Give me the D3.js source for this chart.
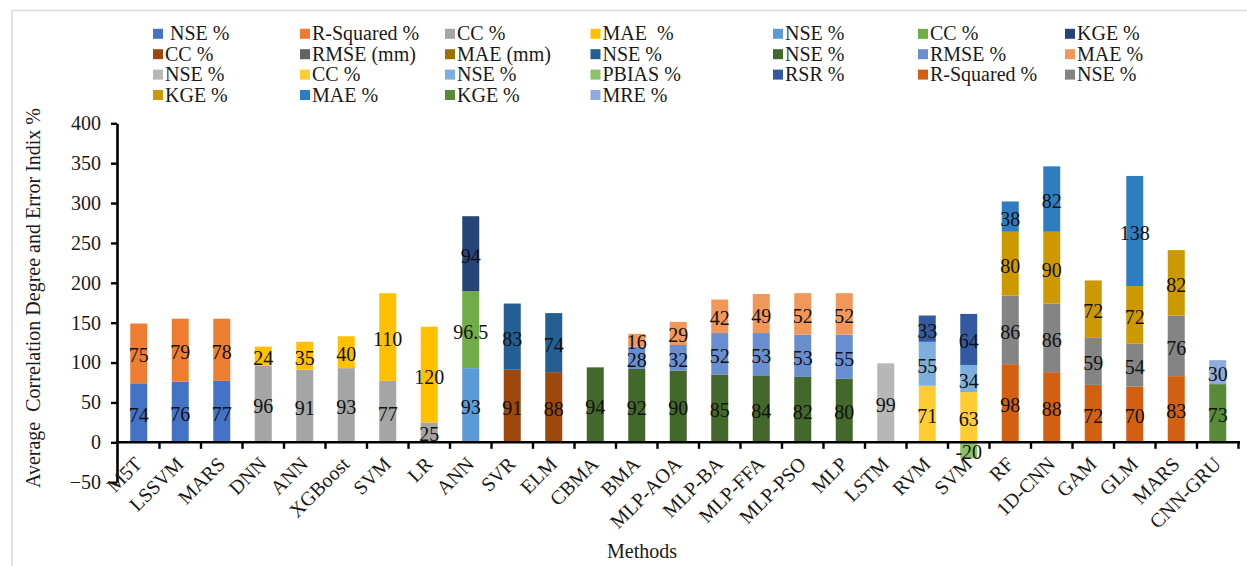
<!DOCTYPE html>
<html>
<head>
<meta charset="utf-8">
<script src="https://cdn.jsdelivr.net/npm/d3@7"></script>
<style>
  html, body { margin: 0; padding: 0; background: #fff; }
  svg { display: block; font-family: "Liberation Serif", "Times New Roman", serif; }
  text { white-space: pre; }
</style>
</head>
<body>
<svg id="chart" width="1247" height="566"></svg>
<script>
const _ = null;

// Methods on the category axis (some names repeat across study groups)
const categories = [
  "M5T", "LSSVM", "MARS",
  "DNN", "ANN", "XGBoost", "SVM", "LR",
  "ANN",
  "SVR", "ELM",
  "CBMA", "BMA", "MLP-AOA", "MLP-BA", "MLP-FFA", "MLP-PSO", "MLP",
  "LSTM",
  "RVM", "SVM",
  "RF", "1D-CNN", "GAM", "GLM", "MARS",
  "CNN-GRU"
];

// One array per series, one entry per method (null = not reported)
//                 M5T LSSVM MARS | DNN ANN XGB SVM LR | ANN | SVR ELM | CBMA BMA AOA BA FFA PSO MLP | LSTM | RVM SVM | RF 1D GAM GLM MARS | GRU
const nse1      = [74, 76, 77,  _, _, _, _, _,  _,  _, _,  _, _, _, _, _, _, _,  _,  _, _,  _, _, _, _, _,  _];
const rsq1      = [75, 79, 78,  _, _, _, _, _,  _,  _, _,  _, _, _, _, _, _, _,  _,  _, _,  _, _, _, _, _,  _];
const cc1       = [ _, _, _,  96, 91, 93, 77, 25,  _,  _, _,  _, _, _, _, _, _, _,  _,  _, _,  _, _, _, _, _,  _];
const mae1      = [ _, _, _,  24, 35, 40, 110, 120,  _,  _, _,  _, _, _, _, _, _, _,  _,  _, _,  _, _, _, _, _,  _];
const nse2      = [ _, _, _,  _, _, _, _, _,  93,  _, _,  _, _, _, _, _, _, _,  _,  _, _,  _, _, _, _, _,  _];
const cc2       = [ _, _, _,  _, _, _, _, _,  96.5,  _, _,  _, _, _, _, _, _, _,  _,  _, _,  _, _, _, _, _,  _];
const kge1      = [ _, _, _,  _, _, _, _, _,  94,  _, _,  _, _, _, _, _, _, _,  _,  _, _,  _, _, _, _, _,  _];
const cc3       = [ _, _, _,  _, _, _, _, _,  _,  91, 88,  _, _, _, _, _, _, _,  _,  _, _,  _, _, _, _, _,  _];
const rmseMm    = [ _, _, _,  _, _, _, _, _,  _,  _, _,  _, _, _, _, _, _, _,  _,  _, _,  _, _, _, _, _,  _];
const maeMm     = [ _, _, _,  _, _, _, _, _,  _,  _, _,  _, _, _, _, _, _, _,  _,  _, _,  _, _, _, _, _,  _];
const nse3      = [ _, _, _,  _, _, _, _, _,  _,  83, 74,  _, _, _, _, _, _, _,  _,  _, _,  _, _, _, _, _,  _];
const nse4      = [ _, _, _,  _, _, _, _, _,  _,  _, _,  94, 92, 90, 85, 84, 82, 80,  _,  _, _,  _, _, _, _, _,  _];
const rmse1     = [ _, _, _,  _, _, _, _, _,  _,  _, _,  _, 28, 32, 52, 53, 53, 55,  _,  _, _,  _, _, _, _, _,  _];
const mae2      = [ _, _, _,  _, _, _, _, _,  _,  _, _,  _, 16, 29, 42, 49, 52, 52,  _,  _, _,  _, _, _, _, _,  _];
const nse5      = [ _, _, _,  _, _, _, _, _,  _,  _, _,  _, _, _, _, _, _, _,  99,  _, _,  _, _, _, _, _,  _];
const cc4       = [ _, _, _,  _, _, _, _, _,  _,  _, _,  _, _, _, _, _, _, _,  _,  71, 63,  _, _, _, _, _,  _];
const nse6      = [ _, _, _,  _, _, _, _, _,  _,  _, _,  _, _, _, _, _, _, _,  _,  55, 34,  _, _, _, _, _,  _];
const pbias     = [ _, _, _,  _, _, _, _, _,  _,  _, _,  _, _, _, _, _, _, _,  _,  _, -20,  _, _, _, _, _,  _];
const rsr       = [ _, _, _,  _, _, _, _, _,  _,  _, _,  _, _, _, _, _, _, _,  _,  33, 64,  _, _, _, _, _,  _];
const rsq2      = [ _, _, _,  _, _, _, _, _,  _,  _, _,  _, _, _, _, _, _, _,  _,  _, _,  98, 88, 72, 70, 83,  _];
const nse7      = [ _, _, _,  _, _, _, _, _,  _,  _, _,  _, _, _, _, _, _, _,  _,  _, _,  86, 86, 59, 54, 76,  _];
const kge2      = [ _, _, _,  _, _, _, _, _,  _,  _, _,  _, _, _, _, _, _, _,  _,  _, _,  80, 90, 72, 72, 82,  _];
const mae3      = [ _, _, _,  _, _, _, _, _,  _,  _, _,  _, _, _, _, _, _, _,  _,  _, _,  38, 82, _, 138, _,  _];
const kge3      = [ _, _, _,  _, _, _, _, _,  _,  _, _,  _, _, _, _, _, _, _,  _,  _, _,  _, _, _, _, _,  73];
const mre       = [ _, _, _,  _, _, _, _, _,  _,  _, _,  _, _, _, _, _, _, _,  _,  _, _,  _, _, _, _, _,  30];

const seriesNames = [
  " NSE %", "R-Squared %", "CC %", "MAE  %", "NSE %", "CC %", "KGE %",
  "CC %", "RMSE (mm)", "MAE (mm)", "NSE %", "NSE %", "RMSE %", "MAE %",
  "NSE %", "CC %", "NSE %", "PBIAS %", "RSR %", "R-Squared %", "NSE %",
  "KGE %", "MAE %", "KGE %", "MRE %"
];
const seriesValues = [
  nse1, rsq1, cc1, mae1, nse2, cc2, kge1,
  cc3, rmseMm, maeMm, nse3, nse4, rmse1, mae2,
  nse5, cc4, nse6, pbias, rsr, rsq2, nse7,
  kge2, mae3, kge3, mre
];
const seriesColors = [
  "#4472C4", "#ED7D31", "#A5A5A5", "#FFC000", "#5B9BD5", "#70AD47", "#264478",
  "#9E480E", "#636363", "#997300", "#255E91", "#43682B", "#698ED0", "#F1975A",
  "#B7B7B7", "#FFCD33", "#7CAFDD", "#8CC168", "#335AA1", "#D26012", "#848484",
  "#CC9A00", "#2F7DC1", "#578B3A", "#8FAADC"
];
const yTicks = [-50, 0, 50, 100, 150, 200, 250, 300, 350, 400];

const svg = d3.select("#chart");

// chart area frame
svg.append("rect")
  .attr("x", 12).attr("y", 10.5).attr("width", 1300).attr("height", 600)
  .attr("fill", "none").attr("stroke", "#d9d9d9").attr("stroke-width", 1.5);

const x = d3.scaleBand().domain(d3.range(categories.length)).range([118, 1238.5]).paddingInner(0).paddingOuter(0);
const y = d3.scaleLinear().domain([-50, 400]).range([482.2, 123.3]);
const barW = 17;

// stacked rows: positive values build up from 0, negatives go below
const keys = d3.range(seriesValues.length);
const rows = categories.map((c, i) => {
  const r = {};
  keys.forEach(k => { r[k] = seriesValues[k][i] == null ? 0 : seriesValues[k][i]; });
  return r;
});
const stacked = d3.stack().keys(keys).offset(d3.stackOffsetDiverging)(rows);

const barLayer = svg.append("g");
const labelLayer = svg.append("g");
stacked.forEach(layer => {
  const k = layer.key;
  layer.forEach((seg, i) => {
    const v = seriesValues[k][i];
    if (v == null) return;
    const x0 = x(i) + (x.bandwidth() - barW) / 2;
    const top = y(Math.max(seg[0], seg[1]));
    const bot = y(Math.min(seg[0], seg[1]));
    barLayer.append("rect")
      .attr("x", x0).attr("y", top)
      .attr("width", barW).attr("height", bot - top)
      .attr("fill", seriesColors[k]);
    labelLayer.append("text")
      .attr("x", x(i) + x.bandwidth() / 2)
      .attr("y", y((seg[0] + seg[1]) / 2) + 9)
      .attr("text-anchor", "middle")
      .attr("font-size", 20)
      .attr("fill", "#111")
      .text(v);
  });
});

// y axis
const yAxis = svg.append("g")
  .attr("transform", `translate(${x.range()[0] - 1},0)`)
  .call(d3.axisLeft(y).tickValues(yTicks).tickSize(6).tickSizeOuter(0).tickPadding(10));
yAxis.select(".domain").attr("stroke", "#000").attr("stroke-width", 2.6);
yAxis.selectAll(".tick line").attr("stroke", "#000").attr("stroke-width", 2.4);
yAxis.selectAll(".tick text")
  .attr("font-family", "Liberation Serif, serif").attr("font-size", 20).attr("fill", "#1a1a1a");

// category axis drawn on the zero line, ticks between categories
const xAxis = svg.append("g").attr("transform", `translate(0,${y(0)})`);
xAxis.append("line")
  .attr("x1", x.range()[0] - 2).attr("x2", x.range()[1] + 1.5)
  .attr("stroke", "#000").attr("stroke-width", 2.6);
xAxis.selectAll("line.tick")
  .data(d3.range(1, categories.length + 1))
  .join("line").attr("class", "tick")
  .attr("x1", i => i < categories.length ? x(i) : x.range()[1])
  .attr("x2", i => i < categories.length ? x(i) : x.range()[1])
  .attr("y1", 0).attr("y2", 6.5)
  .attr("stroke", "#000").attr("stroke-width", 2.4);

svg.append("g").selectAll("text")
  .data(categories)
  .join("text")
  .attr("transform", (d, i) => `translate(${x(i) + x.bandwidth() / 2 + 4.5},${y(0) + 23}) rotate(-45)`)
  .attr("text-anchor", "end")
  .attr("font-size", 20)
  .attr("fill", "#1a1a1a")
  .text(d => d);

// axis titles
svg.append("text")
  .attr("transform", "translate(40,298) rotate(-90)")
  .attr("text-anchor", "middle")
  .attr("font-size", 20)
  .attr("fill", "#1a1a1a")
  .text("Average  Correlation Degree and Error Indix %");

svg.append("text")
  .attr("x", 642).attr("y", 558)
  .attr("text-anchor", "middle")
  .attr("font-size", 20)
  .attr("fill", "#1a1a1a")
  .text("Methods");

// legend, 7 columns
const legendCols = [153, 300, 445, 590.5, 773, 918, 1065];
const legendRows = [33.8, 54.2, 74.6, 95];
const legend = svg.append("g");
seriesNames.forEach((name, k) => {
  const cx = legendCols[k % 7];
  const cy = legendRows[Math.floor(k / 7)];
  legend.append("rect")
    .attr("x", cx).attr("y", cy - 5)
    .attr("width", 10).attr("height", 10)
    .attr("fill", seriesColors[k]);
  legend.append("text")
    .attr("x", cx + 12).attr("y", cy + 6.5)
    .attr("font-size", 20)
    .attr("fill", "#1a1a1a")
    .text(name);
});
</script>
</body>
</html>
